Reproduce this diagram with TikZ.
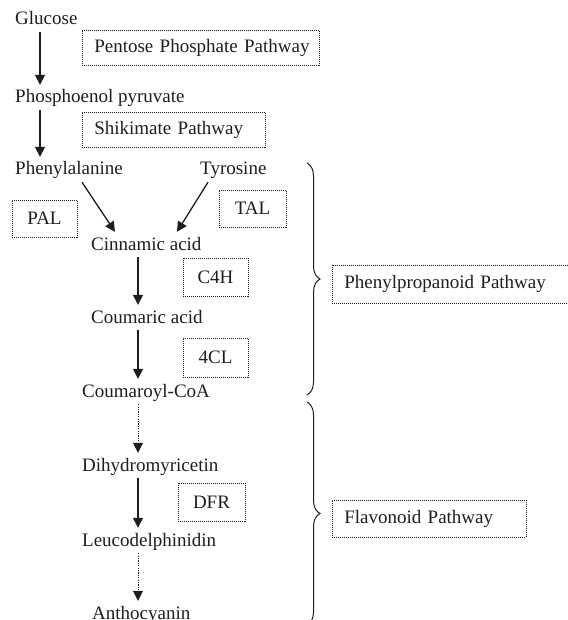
\documentclass[tikz,border=0pt]{standalone}
\usepackage{fontspec}
\setmainfont{Liberation Serif}
\usepackage{tikz}
\usetikzlibrary{arrows.meta,positioning,decorations.pathreplacing}
\definecolor{InkGray}{RGB}{30,30,30}

\begin{document}
\begin{tikzpicture}[
  x=1pt,y=-1pt,
  cmpd/.style={inner sep=0pt,text height=18pt,text depth=7pt,anchor=base west,
               font=\fontsize{19}{22}\selectfont,text=InkGray},
  enz/.style={draw=InkGray,line width=0.6pt,dash pattern=on 1pt off 1pt,
              inner sep=0pt,font=\fontsize{19}{22}\selectfont,text=InkGray},
  pway/.style={enz,anchor=west,inner xsep=12pt,align=left},
  arr/.style={-{Triangle[length=10pt,width=10pt]},line width=1.3pt,InkGray},
  darr/.style={arr,line width=0.8pt,dash pattern=on 1.2pt off 1.2pt},
  brc/.style={decorate,decoration={brace,amplitude=13pt},line width=1pt,InkGray},
]
\useasboundingbox (0,0) rectangle (567,620);
\node[cmpd] (glc) at (15,25) {Glucose};
\node[cmpd] (pep) at (15,103) {Phosphoenol pyruvate};
\node[cmpd] (phe) at (15,175) {Phenylalanine};
\node[cmpd] (tyr) at (200,175) {Tyrosine};
\node[cmpd] (cin) at (91,250) {Cinnamic acid};
\node[cmpd] (cou) at (91,323) {Coumaric acid};
\node[cmpd] (coa) at (82,397) {Coumaroyl-CoA};
\node[cmpd] (dhm) at (82,471) {Dihydromyricetin};
\node[cmpd] (leu) at (82,546) {Leucodelphinidin};
\node[cmpd] (ant) at (92,619) {Anthocyanin};
\node[pway,text width=213pt,minimum height=35pt] (ppp) at (82,47.5) {\mbox{Pentose Phosphate Pathway}};
\node[pway,text width=159pt,minimum height=35pt] (skm) at (82,129.5) {\mbox{Shikimate Pathway}};
\node[enz,minimum width=65pt,minimum height=37pt] (pal) at (44.5,218.5) {PAL};
\node[enz,minimum width=67pt,minimum height=37pt] (tal) at (252.5,208.5) {TAL};
\node[enz,minimum width=65pt,minimum height=38pt] (c4h) at (215.5,277) {C4H};
\node[enz,minimum width=65pt,minimum height=39pt] (fcl) at (215.5,357.5) {4CL};
\node[enz,minimum width=67pt,minimum height=38pt] (dfr) at (211.5,502) {DFR};
\node[pway,text width=232pt,minimum height=38pt] (php) at (332,284) {\mbox{Phenylpropanoid Pathway}};
\node[pway,text width=170pt,minimum height=37pt] (flp) at (332,518.5) {\mbox{Flavonoid Pathway}};
\draw[arr] ([xshift=25pt]glc.south west) -- ([xshift=25pt]pep.north west);
\draw[arr] ([xshift=25pt]pep.south west) -- ([xshift=25pt]phe.north west);
\draw[arr] ([xshift=67pt]phe.south west) -- ([xshift=24pt]cin.north west);
\draw[arr] ([xshift=8pt]tyr.south west) -- ([xshift=86pt]cin.north west);
\draw[arr] ([xshift=47pt]cin.south west) -- ([xshift=47pt]cou.north west);
\draw[arr] ([xshift=47pt]cou.south west) -- ([xshift=56pt]coa.north west);
\draw[darr] ([xshift=56pt]coa.south west) -- ([xshift=56pt]dhm.north west);
\draw[arr] ([xshift=56pt]dhm.south west) -- ([xshift=56pt]leu.north west);
\draw[darr] ([xshift=56pt]leu.south west) -- ([xshift=46pt]ant.north west);
\coordinate (b1t) at (307,163);
\coordinate (b1b) at (307,395);
\coordinate (b2t) at (307,402);
\coordinate (b2b) at (307,625);
\draw[brc] (b1t) -- (b1b);
\draw[brc] (b2t) -- (b2b);
\end{tikzpicture}
\end{document}
